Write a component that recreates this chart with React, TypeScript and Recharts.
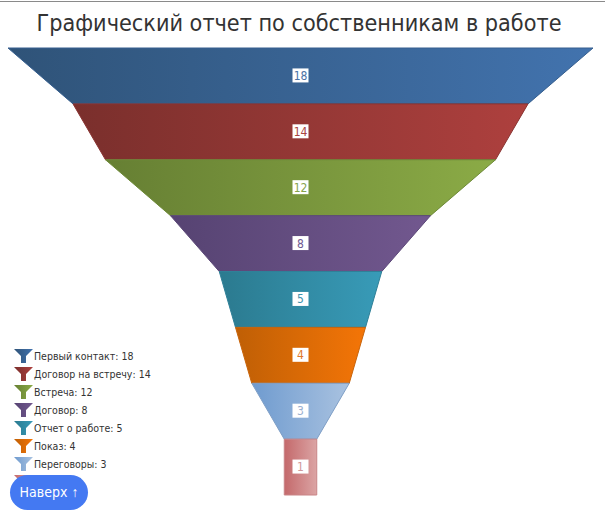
import { FunnelChart, Funnel, LabelList, Cell } from 'recharts';

const stages = ['Первый контакт', 'Договор на встречу', 'Встреча', 'Договор', 'Отчет о работе', 'Показ', 'Переговоры', 'Сделка'];
const counts = [18, 14, 12, 8, 5, 4, 3, 1];

// left / right gradient stops and outline per stage
const darkStops = ['#2f5378', '#7a2f2c', '#667f33', '#564372', '#2b7a8f', '#bf5f05', '#6f9bcf', '#c4696b'];
const lightStops = ['#4273ae', '#ae403e', '#8bab46', '#72588f', '#389bb8', '#f47507', '#a9c2e0', '#dba4a4'];
const outlines = ['#365f8f', '#8a3432', '#6e8a38', '#5c4878', '#2f8098', '#c9640a', '#7f9fc6', '#c98486'];
const labelColors = ['#4a72a5', '#a84442', '#86a34c', '#6f5a92', '#3f93ad', '#e0782a', '#9ab0d0', '#d09a9c'];

const data = stages.map((name, i) => ({ name, value: counts[i] }));

function FunnelLabel(props: any) {
  const { x, y, width, height, value, index } = props;
  const cx = x + width / 2;
  const cy = y + height / 2;
  return (
    <g>
      <rect x={cx - 8} y={cy - 7.5} width={16} height={14} fill="#fff" />
      <text x={cx} y={cy + 4} textAnchor="middle" fontSize={12} fill={labelColors[index]} fontFamily="'DejaVu Sans Condensed', sans-serif">
        {value}
      </text>
    </g>
  );
}

function FunnelLegend() {
  return (
    <div style={{ position: 'absolute', left: 14, top: 346, fontFamily: "'DejaVu Sans Condensed', sans-serif", fontSize: 10.5, color: '#333' }}>
      {stages.map((name, i) => (
        <div key={name} style={{ display: 'flex', alignItems: 'center', height: 18 }}>
          <svg width={19} height={16} style={{ marginRight: 1 }}>
            <path d="M0 2H19L12 9V16H7V9Z" fill={`url(#stage${i})`} />
          </svg>
          <span style={{ marginTop: 2 }}>{name}: {counts[i]}</span>
        </div>
      ))}
    </div>
  );
}

export default function App() {
  return (
    <div style={{ position: 'absolute', left: 0, top: 0, width: 605, height: 517, background: '#fff', overflow: 'hidden' }}>
      <div style={{ height: 1, marginTop: 1, background: '#8a8a8a' }} />
      <FunnelChart
        width={605}
        height={517}
        margin={{ top: 48, right: 12, bottom: 22, left: 8 }}
        style={{ position: 'absolute', left: 0, top: 0 }}
      >
        <defs>
          {stages.map((name, i) => (
            <linearGradient key={name} id={`stage${i}`} x1="0" y1="0" x2="1" y2="0">
              <stop offset="0%" stopColor={darkStops[i]} />
              <stop offset="100%" stopColor={lightStops[i]} />
            </linearGradient>
          ))}
        </defs>
        <Funnel dataKey="value" nameKey="name" data={data} lastShapeType="rectangle" isAnimationActive={false}>
          {stages.map((name, i) => (
            <Cell key={name} fill={`url(#stage${i})`} stroke={outlines[i]} strokeWidth={1} />
          ))}
          <LabelList dataKey="value" content={<FunnelLabel />} />
        </Funnel>
      </FunnelChart>
      <div
        style={{
          position: 'absolute', left: 0, top: 9, width: 598, textAlign: 'center',
          fontFamily: "'DejaVu Sans Condensed', sans-serif", fontSize: 23.2, color: '#333',
        }}
      >
        Графический отчет по собственникам в работе
      </div>
      <FunnelLegend />
      <div
        style={{
          position: 'absolute', left: 10, top: 475, width: 78, height: 35, lineHeight: '35px', borderRadius: 18,
          background: '#4479f2', color: '#fff', textAlign: 'center', fontFamily: "'DejaVu Sans Condensed', sans-serif", fontSize: 14,
        }}
      >
        Наверх <span style={{ fontFamily: "'Liberation Sans', sans-serif" }}>↑</span>
      </div>
    </div>
  );
}
